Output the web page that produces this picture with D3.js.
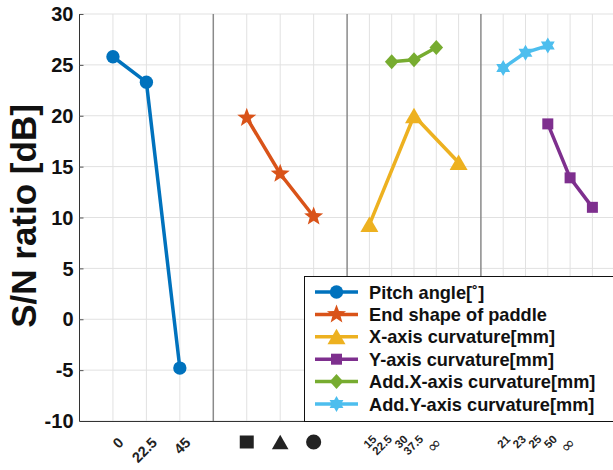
<!DOCTYPE html>
<html>
<head>
<meta charset="utf-8">
<script src="https://cdn.jsdelivr.net/npm/d3@7"></script>
<style>
  html, body { margin: 0; padding: 0; background: #fff; }
  svg { display: block; font-family: "Liberation Sans", Arial, sans-serif; font-weight: bold; }
</style>
</head>
<body>
<figure id="chart" style="margin:0"></figure>
<script>
// Categories, one list per factor group (left to right)
const pitchLabels = ["0", "22.5", "45"];
const shapeLabels = ["square", "triangle", "circle"];
const xCurvLabels = ["15", "22.5", "30", "37.5", "∞"];
const yCurvLabels = ["21", "23", "25", "50", "∞"];
const groups = [pitchLabels, shapeLabels, xCurvLabels, yCurvLabels];

// Series values (S/N ratio in dB)
const pitchValues = [25.8, 23.3, -4.8];
const endShapeValues = [19.8, 14.3, 10.1];
const xCurvValues = [9.3, 20.0, 15.4];
const yCurvValues = [19.2, 13.9, 11.0];
const addXValues = [25.3, 25.5, 26.7];
const addYValues = [24.7, 26.2, 26.9];

// Which category each value belongs to
const pitchCats = ["0", "22.5", "45"];
const endShapeCats = ["square", "triangle", "circle"];
const xCurvCats = ["15", "30", "∞"];
const yCurvCats = ["25", "50", "∞"];
const addXCats = ["22.5", "30", "37.5"];
const addYCats = ["21", "23", "25"];

const yTicks = [30, 25, 20, 15, 10, 5, 0, -5, -10];

const series = [
  { name: "Pitch angle[˚]", group: 0, cats: pitchCats, values: pitchValues, color: "#0072BD", marker: "circle" },
  { name: "End shape of paddle", group: 1, cats: endShapeCats, values: endShapeValues, color: "#D95319", marker: "star" },
  { name: "X-axis curvature[mm]", group: 2, cats: xCurvCats, values: xCurvValues, color: "#EDB120", marker: "triangle" },
  { name: "Y-axis curvature[mm]", group: 3, cats: yCurvCats, values: yCurvValues, color: "#7E2F8E", marker: "square" },
  { name: "Add.X-axis curvature[mm]", group: 2, cats: addXCats, values: addXValues, color: "#77AC30", marker: "diamond" },
  { name: "Add.Y-axis curvature[mm]", group: 3, cats: addYCats, values: addYValues, color: "#4DBEEE", marker: "hexagram" }
];

const width = 613, height = 470;
const plotLeft = 79.5, plotTop = 14, plotBottom = 421;
const groupWidth = 6;

// position of a category inside its group, in axis units
function pos(g, i) {
  const n = groups[g].length;
  return g * groupWidth + (i + 1) * groupWidth / (n + 1);
}

const x = d3.scaleLinear().domain([0, groups.length * groupWidth]).range([plotLeft, 614.7]);
const y = d3.scaleLinear().domain([-10, 30]).range([plotBottom, plotTop]);

// custom marker shapes, centred on their bounding box
function polygon(pts) {
  return { draw(ctx) { pts.forEach((p, i) => i ? ctx.lineTo(p[0], p[1]) : ctx.moveTo(p[0], p[1])); ctx.closePath(); } };
}
function starPts(nPts, ro, ri) {
  const pts = [];
  for (let k = 0; k < nPts * 2; k++) {
    const r = k % 2 ? ri : ro;
    const a = -Math.PI / 2 + k * Math.PI / nPts;
    pts.push([r * Math.cos(a), r * Math.sin(a)]);
  }
  return pts;
}
const markers = {
  circle: d3.symbol(d3.symbolCircle, 140)(),
  star: d3.symbol(polygon(starPts(5, 10, 4.2)))(),
  triangle: d3.symbol(polygon([[0, -8], [9, 7.5], [-9, 7.5]]))(),
  square: d3.symbol(polygon([[-5.5, -5.5], [5.5, -5.5], [5.5, 5.5], [-5.5, 5.5]]))(),
  diamond: d3.symbol(polygon([[0, -7.5], [6.8, 0], [0, 7.5], [-6.8, 0]]))(),
  hexagram: d3.symbol(polygon(starPts(6, 8, 4.6)))()
};

const svg = d3.select("figure#chart")
  .append("svg")
  .attr("width", width)
  .attr("height", height)
  .attr("viewBox", `0 0 ${width} ${height}`);

svg.append("rect").attr("width", width).attr("height", height).attr("fill", "#fff");

// Grid
const grid = svg.append("g");
grid.selectAll("line.h")
  .data(yTicks)
  .enter()
  .append("line")
  .attr("x1", plotLeft).attr("x2", width)
  .attr("y1", d => y(d)).attr("y2", d => y(d))
  .attr("stroke", "#e1e1e1").attr("stroke-width", 1);

const tickCats = [];
groups.forEach((labels, g) => labels.forEach((lab, i) => tickCats.push({ g, i, lab })));
grid.selectAll("line.v")
  .data(tickCats)
  .enter()
  .append("line")
  .attr("x1", d => x(pos(d.g, d.i))).attr("x2", d => x(pos(d.g, d.i)))
  .attr("y1", plotTop).attr("y2", plotBottom)
  .attr("stroke", "#e1e1e1").attr("stroke-width", 1);

// group separators
grid.selectAll("line.sep")
  .data(d3.range(1, groups.length))
  .enter()
  .append("line")
  .attr("x1", d => x(d * groupWidth)).attr("x2", d => x(d * groupWidth))
  .attr("y1", plotTop).attr("y2", plotBottom)
  .attr("stroke", "#8a8a8a").attr("stroke-width", 1.5);

// Y axis
const yAxis = svg.append("g")
  .attr("transform", `translate(${plotLeft},0)`)
  .call(d3.axisRight(y).tickValues(yTicks).tickSize(4).tickFormat(""));
yAxis.select(".domain").attr("stroke", "#333").attr("d", `M0,${plotTop}V${plotBottom}`);
yAxis.selectAll(".tick line").attr("stroke", "#555");

svg.append("g")
  .selectAll("text")
  .data(yTicks)
  .enter()
  .append("text")
  .attr("x", 73.5)
  .attr("y", d => y(d))
  .attr("dy", "0.36em")
  .attr("text-anchor", "end")
  .attr("font-size", 20)
  .attr("fill", "#111")
  .text(d => d);

// X axis line
svg.append("line")
  .attr("x1", plotLeft).attr("x2", width)
  .attr("y1", plotBottom + 0.5).attr("y2", plotBottom + 0.5)
  .attr("stroke", "#333").attr("stroke-width", 1);

// Y title
svg.append("text")
  .attr("transform", `translate(36,216) rotate(-90)`)
  .attr("text-anchor", "middle")
  .attr("font-size", 35)
  .attr("fill", "#111")
  .text("S/N ratio [dB]");

// X tick labels
const xl = svg.append("g");
tickCats.filter(d => d.g === 0).forEach(d => {
  xl.append("text")
    .attr("transform", `translate(${x(pos(d.g, d.i)) + 8},440) rotate(-45)`)
    .attr("text-anchor", "end")
    .attr("dy", "0.35em")
    .attr("font-size", 14.5)
    .attr("fill", "#222")
    .text(d.lab);
});
tickCats.filter(d => d.g >= 2).forEach(d => {
  const x0 = x(pos(d.g, 0));
  const lx = x0 + 5 + (x(pos(d.g, d.i)) - x0) * 0.7;
  const inf = d.lab === "∞";
  xl.append("text")
    .attr("transform", `translate(${lx + (inf ? 2 : 0)},${inf ? 440 : 437}) rotate(-45)`)
    .attr("text-anchor", "end")
    .attr("dy", "0.35em")
    .attr("font-size", inf ? 17 : 11.5)
    .attr("font-family", inf ? "DejaVu Sans" : null)
    .attr("font-weight", inf ? "normal" : "bold")
    .attr("fill", "#222")
    .text(d.lab);
});
const shapeSymbols = {
  square: d3.symbol(polygon([[-7, -6.5], [7, -6.5], [7, 6.5], [-7, 6.5]]))(),
  triangle: d3.symbol(polygon([[0, -7.2], [8.3, 7.2], [-8.3, 7.2]]))(),
  circle: d3.symbol(d3.symbolCircle, 180)()
};
tickCats.filter(d => d.g === 1).forEach(d => {
  xl.append("path")
    .attr("transform", `translate(${x(pos(d.g, d.i))},442)`)
    .attr("d", shapeSymbols[d.lab])
    .attr("fill", "#222");
});

// Series lines and markers
const line = d3.line().x(d => x(d.p)).y(d => y(d.v));
series.forEach(s => {
  const pts = s.values.map((v, k) => ({ p: pos(s.group, groups[s.group].indexOf(s.cats[k])), v }));
  svg.append("path")
    .datum(pts)
    .attr("d", line)
    .attr("fill", "none")
    .attr("stroke", s.color)
    .attr("stroke-width", 3.5);
  svg.append("g")
    .selectAll("path")
    .data(pts)
    .enter()
    .append("path")
    .attr("transform", d => `translate(${x(d.p)},${y(d.v)})`)
    .attr("d", markers[s.marker])
    .attr("fill", s.color);
});

// Legend
const legend = svg.append("g");
legend.append("rect")
  .attr("x", 304.5).attr("y", 276.5)
  .attr("width", 320).attr("height", plotBottom - 276)
  .attr("fill", "#fff").attr("stroke", "#111").attr("stroke-width", 1);
series.forEach((s, k) => {
  const ly = 292 + k * 22.4;
  const row = legend.append("g").attr("transform", `translate(0,${ly})`);
  row.append("line")
    .attr("x1", 315).attr("x2", 358)
    .attr("stroke", s.color).attr("stroke-width", 3.5);
  row.append("path")
    .attr("transform", "translate(336.5,0)")
    .attr("d", markers[s.marker])
    .attr("fill", s.color);
  row.append("text")
    .attr("x", 369)
    .attr("dy", "0.36em")
    .attr("font-size", 18.2)
    .attr("fill", "#111")
    .text(s.name);
});
</script>
</body>
</html>
